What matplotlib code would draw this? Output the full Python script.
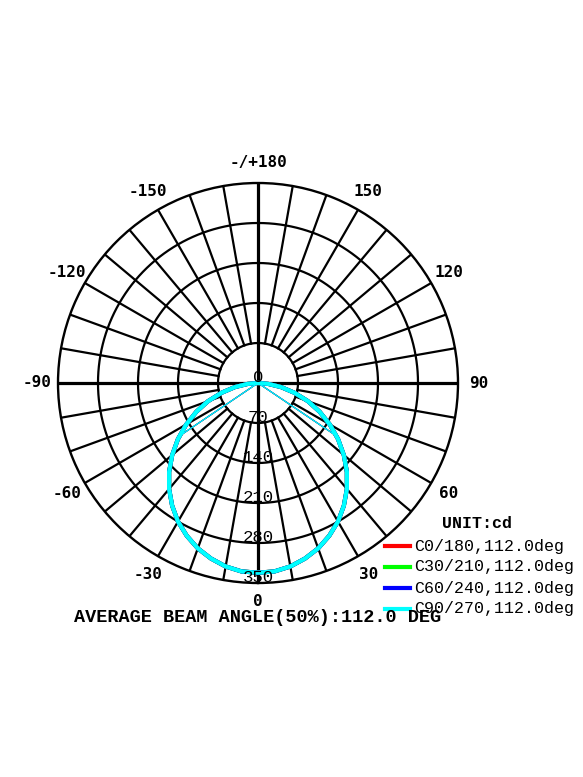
import numpy as np
import matplotlib.pyplot as plt
from matplotlib.lines import Line2D
from matplotlib.transforms import offset_copy

# intensity distribution (cd), C-planes all the same
angles = [-90, -85, -80, -75, -70, -65, -60, -55, -50, -45, -40, -35, -30, -25, -20, -15, -10, -5,
          0, 5, 10, 15, 20, 25, 30, 35, 40, 45, 50, 55, 60, 65, 70, 75, 80, 85, 90]
intensity = [0, 18, 41, 66, 93, 119, 145, 171, 196, 220, 242, 262, 280, 295, 308, 318, 326, 331,
             332, 331, 326, 318, 308, 295, 280, 262, 242, 220, 196, 171, 145, 119, 93, 66, 41, 18, 0]
half_angle = 56.0
half_value = 166

planes = ["C0/180,112.0deg", "C30/210,112.0deg", "C60/240,112.0deg", "C90/270,112.0deg"]
plane_colors = ["#ff0000", "#00ff00", "#0000ff", "#00ffff"]

ring_values = [70, 140, 210, 280, 350]
radial_labels = ["0", "70", "140", "210", "280", "350"]
angle_ticks = [0, 30, 60, 90, 120, 150, 180, 210, 240, 270, 300, 330]
angle_labels = ["0", "30", "60", "90", "120", "150", "-/+180", "-150", "-120", "-90", "-60", "-30"]

fig = plt.figure(figsize=(5.83, 7.77), dpi=100)
ax = fig.add_axes([58 / 583, 1 - 583 / 777, 400 / 583, 400 / 777], projection="polar")
ax.set_theta_zero_location("S")
ax.set_theta_direction(1)
ax.set_ylim(0, 350)
ax.grid(False)
ax.set_xticks([])
ax.set_yticks([])
ax.spines["polar"].set_linewidth(1.7)

# rings
th = np.linspace(0, 2 * np.pi, 721)
for v in ring_values[:-1]:
    ax.plot(th, np.full_like(th, v), color="black", lw=1.6, zorder=1)

# spokes every 10 deg from the first ring outwards
for a in range(0, 360, 10):
    if a % 90 == 0:
        ax.plot([np.radians(a)] * 2, [0, 350], color="black", lw=2.3, zorder=1)
    else:
        ax.plot([np.radians(a)] * 2, [ring_values[0], 350], color="black", lw=1.6, zorder=1)

# curves
t = np.radians(angles)
for name, c in zip(planes, plane_colors):
    ax.plot(t, intensity, color=c, lw=3, zorder=3)
    ax.plot([np.radians(-half_angle), 0, np.radians(half_angle)],
            [half_value, 0, half_value], color=c, lw=0.8, zorder=3)

# radial labels
tr = offset_copy(ax.transData, fig=fig, x=0, y=6, units="dots")
for v, s in zip([0] + ring_values, radial_labels):
    ax.text(0, v, s, transform=tr, ha="center", va="center", fontsize=12.5,
            family="Liberation Mono", zorder=4)

# angle labels
for a, s in zip(angle_ticks, angle_labels):
    r = 382 if a == 0 else 386
    ax.text(np.radians(a), r, s, ha="center", va="center", fontsize=11.5,
            family="DejaVu Sans Mono", fontweight="bold", clip_on=False)

fig.text(258 / 583, 1 - 617 / 777, "AVERAGE BEAM ANGLE(50%):112.0 DEG", ha="center", va="center",
         fontsize=13.3, family="Liberation Mono", fontweight="bold")

# legend
fig.text(477 / 583, 1 - 523 / 777, "UNIT:cd", ha="center", va="center", fontsize=12,
         family="Liberation Mono", fontweight="bold")
for i, (name, c) in enumerate(zip(planes, plane_colors)):
    y = 1 - (546 + 21 * i) / 777
    fig.add_artist(Line2D([385 / 583, 410 / 583], [y, y], color=c, lw=3, transform=fig.transFigure))
    fig.text(414 / 583, y, name, ha="left", va="center", fontsize=12,
             family="Liberation Mono")

fig.savefig("out.png", dpi=100)
